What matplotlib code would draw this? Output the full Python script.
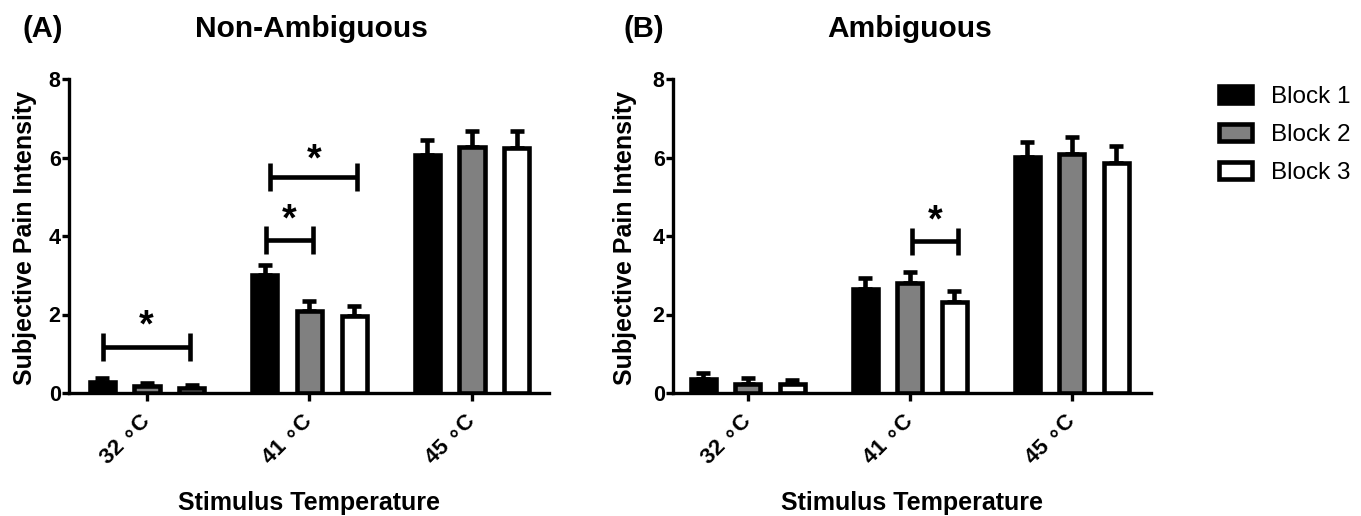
import numpy as np
import matplotlib
matplotlib.use('Agg')
import matplotlib.pyplot as plt
from matplotlib.patches import Patch

plt.rcParams['font.family'] = ['Liberation Sans', 'DejaVu Sans']

# Data (mean and upper SEM)
temps = ['32 \u2218C', '41 \u2218C', '45 \u2218C']
blocks = ['Block 1', 'Block 2', 'Block 3']
yticks = [0, 2, 4, 6, 8]

nonamb_mean = [[0.28, 3.00, 6.07],
               [0.17, 2.10, 6.26],
               [0.12, 1.97, 6.24]]
nonamb_sem = [[0.11, 0.27, 0.38],
              [0.09, 0.25, 0.41],
              [0.09, 0.25, 0.43]]

amb_mean = [[0.36, 2.64, 6.02],
            [0.24, 2.79, 6.10],
            [0.22, 2.32, 5.87]]
amb_sem = [[0.15, 0.28, 0.37],
           [0.13, 0.29, 0.42],
           [0.10, 0.28, 0.42]]

# significance brackets: (x1, x2, y, star_y) in group units
nonamb_sig = [(-0.27, 0.265, 1.17, 1.70),
              (0.735, 1.02, 3.90, 4.40),
              (0.76, 1.295, 5.50, 5.93)]
amb_sig = [(1.012, 1.30, 3.86, 4.36)]

colors = ['black', '#808080', 'white']
offsets = [-0.275, 0.0, 0.275]
bar_w = 0.155
lw = 3.3

fig = plt.figure(figsize=(13.61, 5.16), dpi=100)
axA = fig.add_axes([69/1361, 1-393/516, 480/1361, 314/516])
axB = fig.add_axes([673/1361, 1-393/516, 478/1361, 314/516])


def draw_panel(ax, means, sems, sigs, xlim, ylab_x):
    x = np.arange(len(temps))
    for i in range(len(blocks)):
        ax.errorbar(x + offsets[i], means[i], yerr=[np.zeros(len(temps)), sems[i]],
                    fmt='none', ecolor='black', elinewidth=lw, capsize=5.3,
                    capthick=lw, zorder=2)
        ax.bar(x + offsets[i], means[i], width=bar_w, color=colors[i],
               edgecolor='black', linewidth=lw, zorder=3)
    for (x1, x2, y, sy) in sigs:
        ax.plot([x1, x1], [y - 0.35, y + 0.35], color='black', lw=lw, solid_capstyle='butt')
        ax.plot([x2, x2], [y - 0.35, y + 0.35], color='black', lw=lw, solid_capstyle='butt')
        ax.plot([x1, x2], [y, y], color='black', lw=lw, solid_capstyle='butt')
        ax.text((x1 + x2) / 2, sy, '*', ha='center', va='center',
                fontsize=27, fontweight='bold')
    ax.set_xlim(*xlim)
    ax.set_ylim(0, 8)
    ax.set_yticks(yticks)
    ax.set_xticks(x)
    ax.set_xticklabels(temps, rotation=45, ha='right', va='center',
                       rotation_mode='anchor', fontweight='bold')
    ax.tick_params(axis='y', length=5, width=2.4, pad=1, labelsize=15.5)
    ax.tick_params(axis='x', length=6, width=2.4, pad=12, labelsize=16)
    plt.setp(ax.get_yticklabels(), fontweight='bold')
    for s in ['top', 'right']:
        ax.spines[s].set_visible(False)
    for s in ['left', 'bottom']:
        ax.spines[s].set_linewidth(2.4)
    ax.set_ylabel('Subjective Pain Intensity', fontsize=18, fontweight='bold',
                  va='center')
    ax.yaxis.set_label_coords(ylab_x, 0.495)
    ax.set_xlabel('Stimulus Temperature', fontsize=18, fontweight='bold',
                  va='center')
    ax.xaxis.set_label_coords(0.5, -0.35)


draw_panel(axA, nonamb_mean, nonamb_sem, nonamb_sig, (-0.48, 2.474), -0.092)
draw_panel(axB, amb_mean, amb_sem, amb_sig, (-0.463, 2.49), -0.10)

fig.text(43/1361, 1-37/516, '(A)', ha='center', va='baseline', fontsize=21, fontweight='bold')
fig.text(311/1361, 1-37/516, 'Non-Ambiguous', ha='center', va='baseline', fontsize=21.5, fontweight='bold')
fig.text(644/1361, 1-37/516, '(B)', ha='center', va='baseline', fontsize=21, fontweight='bold')
fig.text(910/1361, 1-37/516, 'Ambiguous', ha='center', va='baseline', fontsize=21.5, fontweight='bold')

handles = [Patch(facecolor=c, edgecolor='black', linewidth=lw) for c in colors]
fig.legend(handles, blocks, loc='upper left', bbox_to_anchor=(1219/1361, 1-86/516),
           frameon=False, fontsize=17.5, handlelength=1.35, handleheight=0.7,
           handletextpad=0.8, labelspacing=0.65, borderpad=0, borderaxespad=0)

fig.savefig('out.png', dpi=100)
